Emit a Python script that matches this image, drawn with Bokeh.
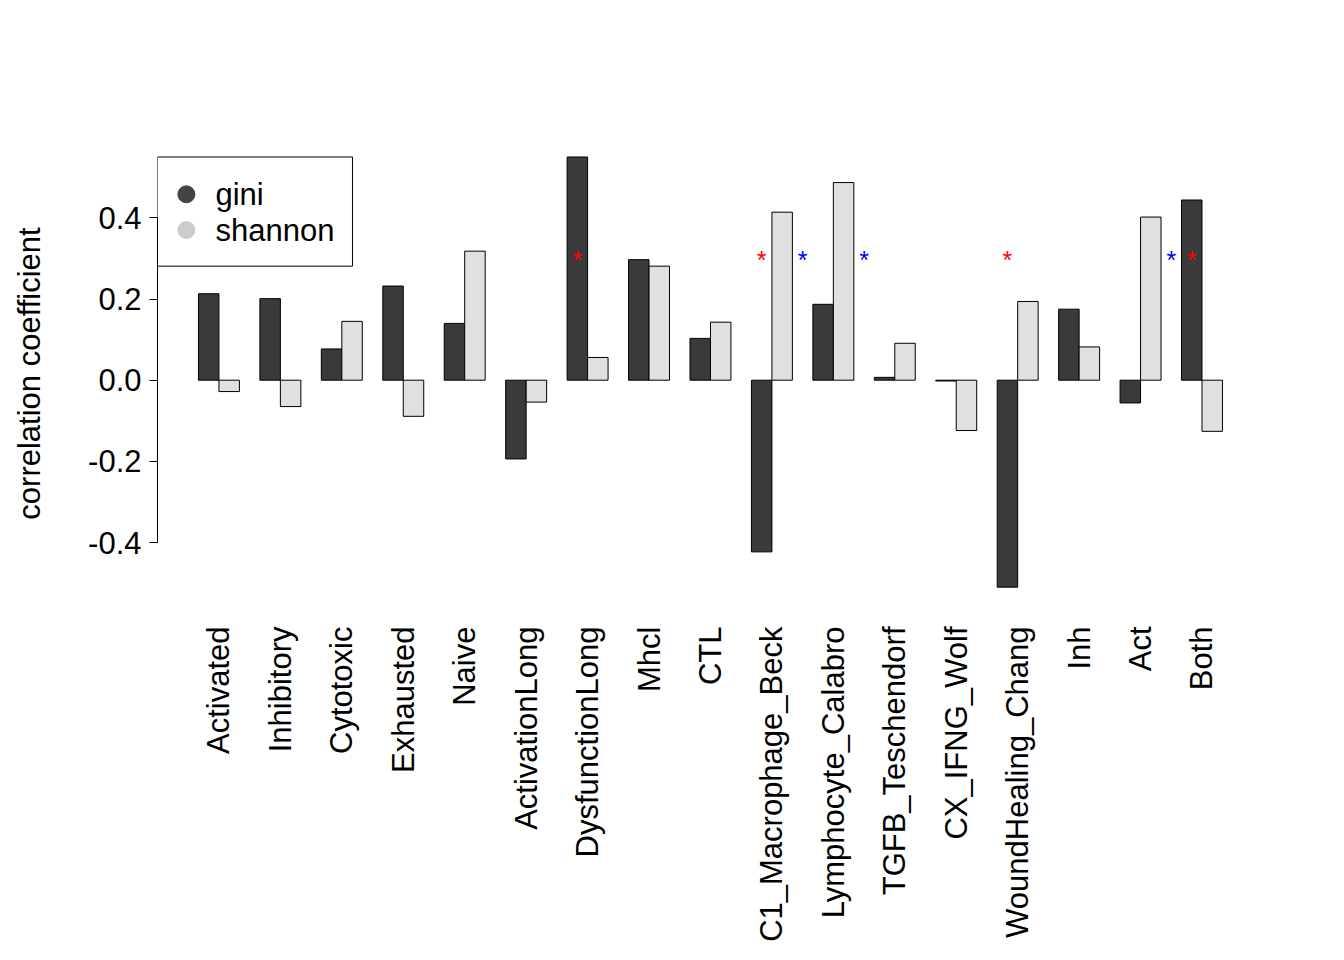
import math
from bokeh.plotting import figure
from bokeh.models import FixedTicker
from bokeh.core.properties import value
from bokeh.embed import file_html
from bokeh.resources import INLINE

signatures = ["Activated", "Inhibitory", "Cytotoxic", "Exhausted", "Naive", "ActivationLong",
              "DysfunctionLong", "Mhcl", "CTL", "C1_Macrophage_Beck", "Lymphocyte_Calabro",
              "TGFB_Teschendorf", "CX_IFNG_Wolf", "WoundHealing_Chang", "Inh", "Act", "Both"]
gini = [0.213, 0.201, 0.077, 0.232, 0.140, -0.194, 0.550, 0.297, 0.103, -0.423, 0.187,
        0.007, -0.002, -0.510, 0.175, -0.056, 0.444]
shannon = [-0.028, -0.065, 0.145, -0.089, 0.318, -0.054, 0.056, 0.281, 0.143, 0.414, 0.487,
           0.091, -0.124, 0.194, 0.082, 0.402, -0.126]
# significance markers: group index
red_stars = [6, 9, 13, 16]      # gini significant
blue_stars = [9, 10, 15]        # shannon significant
star_y = 0.295

FONT = "Liberation Sans"
SIZE = "31px"
n = len(signatures)
gx = [1.5 + 3 * i for i in range(n)]
sx = [2.5 + 3 * i for i in range(n)]
centers = [2 + 3 * i for i in range(n)]

p = figure(width=1328, height=944, output_backend="svg", toolbar_location=None,
           x_range=(-1.0, 51.88), y_range=(-0.533, 0.566),
           min_border_left=157, min_border_right=88, min_border_top=150, min_border_bottom=324)
p.outline_line_color = None
p.grid.visible = False

p.vbar(x=gx, top=gini, bottom=0, width=1, fill_color="#3a3a3a", line_color="black", line_width=1)
p.vbar(x=sx, top=shannon, bottom=0, width=1, fill_color="#e0e0e0", line_color="black", line_width=1)

p.text(x=[gx[i] for i in red_stars], y=[star_y] * len(red_stars), text=["*"] * len(red_stars),
       text_color="red", text_font=value(FONT), text_font_size="25px",
       text_align="center", text_baseline="middle")
p.text(x=[sx[i] + 1 for i in blue_stars], y=[star_y] * len(blue_stars), text=["*"] * len(blue_stars),
       text_color="blue", text_font=value(FONT), text_font_size="25px",
       text_align="center", text_baseline="middle")

# legend box
p.quad(left=[-1.0], right=[8.52], top=[0.55], bottom=[0.281], fill_color="white", line_color="black")
p.scatter(x=[0.41, 0.41], y=[0.458, 0.370], size=17, color=["#444444", "#cccccc"])
p.text(x=[1.83, 1.83], y=[0.458, 0.370], text=["gini", "shannon"], text_font=value(FONT),
       text_font_size=SIZE, text_baseline="middle", text_color="black")

ya = p.yaxis[0]
ya.ticker = FixedTicker(ticks=[-0.4, -0.2, 0.0, 0.2, 0.4])
ya.major_label_overrides = {-0.4: "-0.4", -0.2: "-0.2", 0.0: "0.0", 0.2: "0.2", 0.4: "0.4"}
ya.bounds = (-0.4, 0.4)
ya.minor_tick_line_color = None
ya.major_tick_in = 0
ya.major_tick_out = 8
ya.major_label_standoff = 8
ya.major_label_text_font = FONT
ya.major_label_text_font_size = SIZE
ya.major_label_text_color = "black"
ya.axis_label = "correlation coefficient"
ya.axis_label_text_font = FONT
ya.axis_label_text_font_size = SIZE
ya.axis_label_text_font_style = "normal"
ya.axis_label_text_color = "black"
ya.axis_label_standoff = 38
ya.axis_line_color = "black"

xa = p.xaxis[0]
xa.ticker = FixedTicker(ticks=centers)
xa.major_label_overrides = {c: s for c, s in zip(centers, signatures)}
xa.major_label_orientation = math.pi / 2
xa.axis_line_color = None
xa.major_tick_line_color = None
xa.minor_tick_line_color = None
xa.major_tick_in = 0
xa.major_tick_out = 0
xa.major_label_standoff = 30
xa.major_label_text_font = FONT
xa.major_label_text_font_size = SIZE
xa.major_label_text_color = "black"

open("out.html", "w").write(file_html(p, INLINE))
